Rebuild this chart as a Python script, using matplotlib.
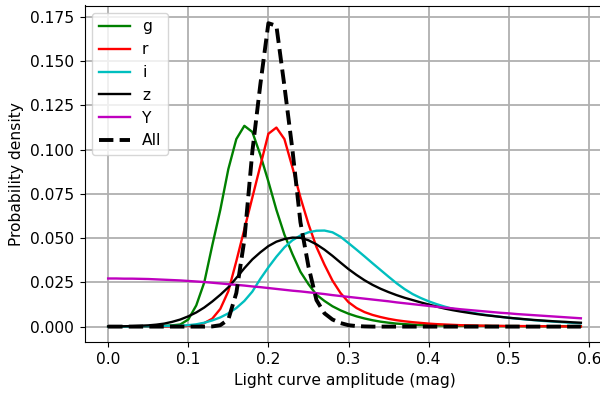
import numpy as np
import matplotlib
matplotlib.use("Agg")
import matplotlib.pyplot as plt

# amplitude grid (mag)
amp = np.round(np.arange(0, 0.595, 0.01), 2)

g = [0, 0, 0, 0, 0, 0.0001, 0.0002, 0.0004, 0.0007, 0.0012,
     0.0040, 0.012, 0.025, 0.046, 0.066, 0.089, 0.106, 0.1135, 0.110, 0.097,
     0.082, 0.066, 0.052, 0.041, 0.031, 0.024, 0.018, 0.0145, 0.0115, 0.0092,
     0.0073, 0.0058, 0.0046, 0.0036, 0.0028, 0.0022, 0.0017, 0.0014, 0.0011, 0.0009,
     0.0008, 0.0007, 0.0006, 0.0005, 0.0005, 0.0004, 0.0004, 0.0004, 0.0003, 0.0003,
     0.0003, 0.0003, 0.0002, 0.0002, 0.0002, 0.0002, 0.0002, 0.0002, 0.0002, 0.0002]

r = [0, 0, 0, 0, 0, 0, 0, 0, 0.0001, 0.0002,
     0.0004, 0.0008, 0.002, 0.0045, 0.010, 0.020, 0.037, 0.055, 0.073, 0.091,
     0.109, 0.1125, 0.106, 0.090, 0.073, 0.058, 0.045, 0.035, 0.026, 0.019,
     0.0138, 0.0105, 0.0082, 0.0066, 0.0054, 0.0044, 0.0036, 0.0030, 0.0025, 0.0021,
     0.0017, 0.0014, 0.0012, 0.0010, 0.0008, 0.0007, 0.0006, 0.0005, 0.0004, 0.0004,
     0.0003, 0.0003, 0.0003, 0.0002, 0.0002, 0.0002, 0.0002, 0.0001, 0.0001, 0.0001]

i = [0, 0, 0, 0, 0.0001, 0.0001, 0.0002, 0.0003, 0.0004, 0.0005,
     0.0008, 0.0013, 0.0022, 0.0035, 0.0052, 0.0075, 0.0105, 0.0145, 0.0198, 0.027,
     0.0335, 0.0395, 0.0448, 0.0488, 0.0515, 0.0533, 0.0542, 0.0543, 0.0533, 0.0508,
     0.0472, 0.0435, 0.0397, 0.0358, 0.0320, 0.0282, 0.0245, 0.0212, 0.0184, 0.0162,
     0.0143, 0.0127, 0.0113, 0.0101, 0.0091, 0.0082, 0.0074, 0.0067, 0.0061, 0.0055,
     0.0050, 0.0045, 0.0041, 0.0037, 0.0033, 0.0030, 0.0027, 0.0024, 0.0021, 0.0019]

z = [0.0001, 0.0001, 0.0002, 0.0003, 0.0005, 0.0007, 0.0011, 0.0017, 0.0027, 0.0040,
     0.0058, 0.0080, 0.0108, 0.0142, 0.0180, 0.0222, 0.0275, 0.033, 0.038, 0.042,
     0.0455, 0.048, 0.0495, 0.0503, 0.0502, 0.0488, 0.0465, 0.0435, 0.0400, 0.0362,
     0.0325, 0.0292, 0.0262, 0.0236, 0.0214, 0.0195, 0.0178, 0.0163, 0.0150, 0.0137,
     0.0125, 0.0113, 0.0102, 0.0093, 0.0085, 0.0078, 0.0071, 0.0065, 0.0060, 0.0055,
     0.0050, 0.0046, 0.0042, 0.0038, 0.0035, 0.0032, 0.0029, 0.0027, 0.0024, 0.0022]

Y = [0.0272, 0.0272, 0.0271, 0.0271, 0.0270, 0.0269, 0.0267, 0.0265, 0.0263, 0.0261,
     0.0258, 0.0255, 0.0252, 0.0248, 0.0244, 0.0240, 0.0236, 0.0232, 0.0227, 0.0223,
     0.0218, 0.0213, 0.0208, 0.0203, 0.0199, 0.0194, 0.0189, 0.0184, 0.0178, 0.0173,
     0.0168, 0.0163, 0.0158, 0.0153, 0.0148, 0.0143, 0.0137, 0.0132, 0.0127, 0.0122,
     0.0117, 0.0112, 0.0107, 0.0103, 0.0098, 0.0094, 0.0090, 0.0086, 0.0082, 0.0078,
     0.0075, 0.0071, 0.0068, 0.0065, 0.0062, 0.0059, 0.0056, 0.0053, 0.0050, 0.0047]

all_bands = [0, 0, 0, 0, 0, 0, 0, 0, 0, 0,
             0, 0, 0, 0.0001, 0.0008, 0.004, 0.019, 0.049, 0.099, 0.137,
             0.1715, 0.170, 0.136, 0.100, 0.059, 0.034, 0.015, 0.0075, 0.004, 0.002,
             0.0008, 0.0003, 0.0001, 0, 0, 0, 0, 0, 0, 0,
             0, 0, 0, 0, 0, 0, 0, 0, 0, 0,
             0, 0, 0, 0, 0, 0, 0, 0, 0, 0]

plt.rcParams["font.size"] = 11.2
plt.rcParams["xtick.major.size"] = 3.9
plt.rcParams["ytick.major.size"] = 3.9

fig = plt.figure(figsize=(6, 3.97), dpi=100)
ax = fig.add_axes([84.5 / 600, 55 / 397, 520 / 600, 336.5 / 397])

ax.plot(amp, g, "g", lw=1.7, label="g")
ax.plot(amp, r, "r", lw=1.7, label="r")
ax.plot(amp, i, "c", lw=1.7, label="i")
ax.plot(amp, z, "k", lw=1.7, label="z")
ax.plot(amp, Y, "m", lw=1.7, label="Y")
ax.plot(amp, all_bands, "k--", lw=2.8, label="All")

ax.set_xlim(-0.0295, 0.6195)
ax.set_ylim(-0.0087, 0.1815)
ax.set_xticks([0, 0.1, 0.2, 0.3, 0.4, 0.5, 0.6])
ax.set_yticks([0, 0.025, 0.05, 0.075, 0.1, 0.125, 0.15, 0.175])
ax.grid(True, color="#b0b0b0", lw=1.3)
ax.set_xlabel("Light curve amplitude (mag)")
ax.set_ylabel("Probability density")
ax.legend(loc="upper left")

fig.savefig("out.png", dpi=100)
